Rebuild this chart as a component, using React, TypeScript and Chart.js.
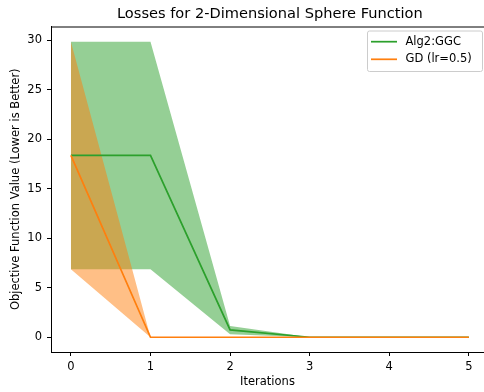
import React, { useEffect, useRef } from "react";
import { Chart, registerables } from "chart.js";

Chart.register(...registerables);

const iterations = [0, 1, 2, 3, 4, 5];
const ggcMean = [18.37, 18.37, 0.74, 0, 0, 0];
const ggcUpper = [29.87, 29.87, 1.14, 0, 0, 0];
const ggcLower = [6.88, 6.88, 0.3, 0, 0, 0];
const gdMean = [18.37, 0, 0, 0, 0, 0];
const gdUpper = [29.87, 0, 0, 0, 0, 0];
const gdLower = [6.88, 0, 0, 0, 0, 0];
const xTicks = [0, 1, 2, 3, 4, 5];
const yTicks = [0, 5, 10, 15, 20, 25, 30];
const legendLabels = ["Alg2:GGC", "GD (lr=0.5)"];
const titleText = "Losses for 2-Dimensional Sphere Function";

const GREEN = "#2ca02c";
const ORANGE = "#ff7f0e";
const GREEN_FILL = "rgba(44,160,44,0.5)";
const ORANGE_FILL = "rgba(255,127,14,0.5)";
const FONT = "'DejaVu Sans', sans-serif";

const pts = (ys: number[]) => iterations.map((x, i) => ({ x, y: ys[i] }));

const frame = {
  id: "frame",
  afterDatasetsDraw(chart: any) {
    const { ctx, chartArea } = chart;
    const xs = chart.scales.x;
    ctx.save();
    const axesRight = xs.getPixelForValue(5.25);
    ctx.fillStyle = "#000";
    ctx.font = `14.6px ${FONT}`;
    ctx.textAlign = "center";
    ctx.textBaseline = "middle";
    ctx.fillText(titleText, (chartArea.left + axesRight) / 2, 14.6);
    // top spine
    ctx.strokeStyle = "#000";
    ctx.lineWidth = 1;
    ctx.beginPath();
    ctx.moveTo(chartArea.left, chartArea.top + 0.5);
    ctx.lineTo(chart.width, chartArea.top + 0.5);
    ctx.stroke();
    // legend
    const bx = 367, by = 30.5, bw = 115, bh = 40.5;
    ctx.fillStyle = "rgba(255,255,255,0.8)";
    ctx.strokeStyle = "#cccccc";
    ctx.lineWidth = 1;
    ctx.beginPath();
    if ((ctx as any).roundRect) (ctx as any).roundRect(bx + 0.5, by + 0.5, bw, bh, 2);
    else ctx.rect(bx + 0.5, by + 0.5, bw, bh);
    ctx.fill();
    ctx.stroke();
    const colors = [GREEN, ORANGE];
    const ys = [41.7, 59.3];
    ctx.font = `11.5px ${FONT}`;
    ctx.textBaseline = "middle";
    ctx.textAlign = "left";
    legendLabels.forEach((t, i) => {
      ctx.strokeStyle = colors[i];
      ctx.lineWidth = 1.73;
      ctx.beginPath();
      ctx.moveTo(371, ys[i]);
      ctx.lineTo(397, ys[i]);
      ctx.stroke();
      ctx.fillStyle = "#000";
      ctx.fillText(t, 405.5, ys[i]);
    });
    ctx.restore();
  },
};

export default function App() {
  const ref = useRef<HTMLCanvasElement>(null);
  useEffect(() => {
    if (!ref.current) return;
    const band = (data: number[], fill: any, color: string) => ({
      data: pts(data),
      borderWidth: 0,
      borderColor: "rgba(0,0,0,0)",
      backgroundColor: color,
      pointRadius: 0,
      fill,
      tension: 0,
    });
    const line = (data: number[], color: string) => ({
      data: pts(data),
      borderWidth: 1.73,
      borderColor: color,
      backgroundColor: color,
      pointRadius: 0,
      fill: false,
      tension: 0,
    });
    const chart = new Chart(ref.current, {
      type: "line",
      data: {
        datasets: [
          { label: legendLabels[1], ...line(gdMean, ORANGE) },
          { label: legendLabels[0], ...line(ggcMean, GREEN) },
          { label: "gd upper", ...band(gdUpper, "+1", ORANGE_FILL) },
          { label: "gd lower", ...band(gdLower, false, ORANGE_FILL) },
          { label: "ggc upper", ...band(ggcUpper, "+1", GREEN_FILL) },
          { label: "ggc lower", ...band(ggcLower, false, GREEN_FILL) },
        ] as any,
      },
      options: {
        animation: false,
        responsive: false,
        layout: { padding: { top: 26.5, left: 0, right: 0, bottom: 0 } },
        plugins: {
          legend: { display: false },
          tooltip: { enabled: false },
          filler: { drawTime: "beforeDatasetsDraw" } as any,
          title: { display: false },
        },
        scales: {
          x: {
            type: "linear",
            min: -0.25,
            max: 5.19,
            grid: { drawOnChartArea: false, drawTicks: true, tickLength: 4, color: "#000" },
            border: { color: "#000", width: 1 },
            afterBuildTicks: (s: any) => {
              s.ticks = xTicks.map((v) => ({ value: v }));
            },
            afterFit: (s: any) => {
              s.height = 40;
            },
            ticks: {
              color: "#000",
              padding: 4,
              maxRotation: 0,
              font: { family: FONT, size: 11.5 },
              callback: (v: any) => String(v),
            },
            title: {
              display: true,
              text: "Iterations",
              color: "#000",
              font: { family: FONT, size: 11.5 },
              padding: { top: 0, bottom: 3.4 },
            },
          },
          y: {
            type: "linear",
            min: -1.49,
            max: 31.4,
            grid: { drawOnChartArea: false, drawTicks: true, tickLength: 4, color: "#000" },
            border: { color: "#000", width: 1 },
            afterBuildTicks: (s: any) => {
              s.ticks = yTicks.map((v) => ({ value: v }));
            },
            afterFit: (s: any) => {
              s.width = 51;
            },
            ticks: {
              color: "#000",
              padding: 5,
              font: { family: FONT, size: 11.5 },
              callback: (v: any) => String(v),
            },
            title: {
              display: true,
              text: "Objective Function Value (Lower is Better)",
              color: "#000",
              font: { family: FONT, size: 11.5 },
              padding: { top: 9, bottom: 0 },
            },
          },
        },
      },
      plugins: [frame],
    });
    return () => chart.destroy();
  }, []);
  return (
    <div style={{ position: "fixed", left: 0, top: 0, width: 484, height: 392, background: "#fff" }}>
      <canvas ref={ref} width={484} height={392} style={{ width: 484, height: 392 }} />
    </div>
  );
}
